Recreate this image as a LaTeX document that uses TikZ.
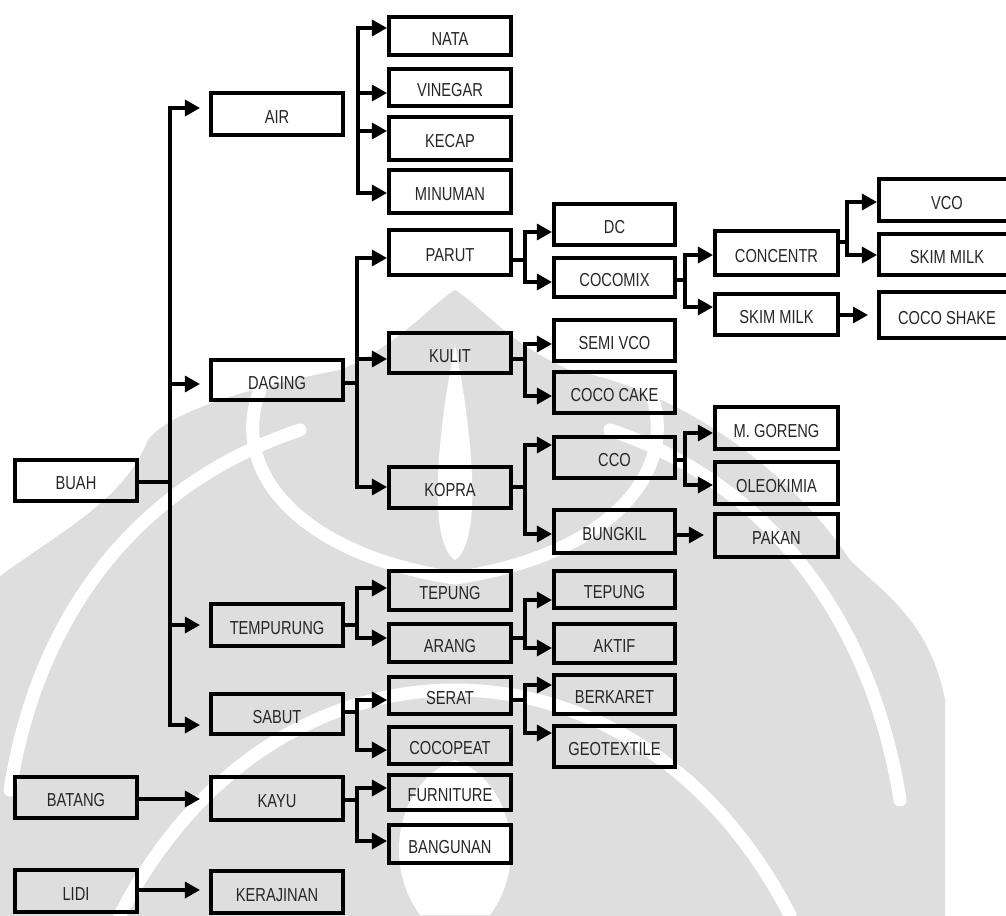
\documentclass[tikz,border=0pt]{standalone}
\usepackage{fontspec}
\setmainfont[FakeStretch=0.78]{Liberation Sans}
\usetikzlibrary{arrows.meta,fit}
\newcommand\bxnode[6]{\node[bx,fit={(#2,#3) (#4,#5)}] (#1) {};
  \node[txt] at ([yshift=-0.06cm]#1.center) {#6};}
\begin{document}
\begin{tikzpicture}[x=0.02cm,y=-0.02cm,
  bx/.style={draw=black,line width=2.3pt,inner sep=0pt},
  txt/.style={inner sep=0pt,text=black!85,font=\fontsize{10.7}{12}\selectfont},
  ln/.style={line width=1.9pt},
  ar/.style={line width=1.9pt,-{Triangle[length=0.3cm,width=0.32cm]}},
  short/.style={shorten >=0.18cm},
  wm/.style={fill=black!13,draw=none},
  wband/.style={draw=white,line width=0.26cm,line cap=round},
]
\useasboundingbox (0,0) rectangle (1006,915);
% ---- watermark (faint logo in the background) ----
\path[wm] (-30,930) -- (-30,600) .. controls (40,540) and (120,510) .. (148,440)
  .. controls (170,410) and (260,385) .. (340,370)
  .. controls (400,345) and (430,305) .. (455,290)
  .. controls (480,305) and (510,345) .. (570,370)
  .. controls (680,390) and (790,470) .. (850,560)
  .. controls (880,590) and (930,620) .. (945,700) -- (945,930) -- cycle;
\draw[wband] (10,790) .. controls (40,600) and (150,480) .. (300,430);
\draw[wband] (900,800) .. controls (870,610) and (760,480) .. (610,430);
\draw[wband] (262,385) .. controls (225,470) and (300,555) .. (455,578);
\draw[wband] (648,385) .. controls (685,470) and (610,555) .. (455,578);
\fill[white] (455,345) .. controls (440,420) and (425,540) .. (455,560)
  .. controls (485,540) and (470,420) .. (455,345) -- cycle;
\draw[wband] (120,915) .. controls (200,760) and (330,690) .. (455,690)
  .. controls (580,690) and (710,760) .. (790,915);
\fill[white] (455,760) .. controls (400,780) and (380,860) .. (420,915)
  -- (490,915) .. controls (530,860) and (510,780) .. (455,760) -- cycle;

% column A
\bxnode{BUAH}{15}{460}{137}{501}{BUAH}
\bxnode{BATANG}{15}{777}{137}{818}{BATANG}
\bxnode{LIDI}{15}{870}{137}{912}{LIDI}
% column B
\bxnode{AIR}{211}{93}{343}{135}{AIR}
\bxnode{DAGING}{211}{360}{343}{400}{DAGING}
\bxnode{TEMPURUNG}{211}{604}{343}{646}{TEMPURUNG}
\bxnode{SABUT}{211}{694}{343}{734}{SABUT}
\bxnode{KAYU}{211}{777}{343}{820}{KAYU}
\bxnode{KERAJINAN}{211}{871}{343}{913}{KERAJINAN}
% column C
\bxnode{NATA}{389}{17}{511}{55}{NATA}
\bxnode{VINEGAR}{389}{69}{511}{106}{VINEGAR}
\bxnode{KECAP}{389}{117}{511}{160}{KECAP}
\bxnode{MINUMAN}{389}{170}{511}{213}{MINUMAN}
\bxnode{PARUT}{389}{230}{511}{275}{PARUT}
\bxnode{KULIT}{389}{333}{511}{373}{KULIT}
\bxnode{KOPRA}{389}{467}{511}{508}{KOPRA}
\bxnode{TEPUNGA}{389}{571}{511}{610}{TEPUNG}
\bxnode{ARANG}{389}{624}{511}{662}{ARANG}
\bxnode{SERAT}{389}{677}{511}{714}{SERAT}
\bxnode{COCOPEAT}{389}{727}{511}{764}{COCOPEAT}
\bxnode{FURNITURE}{389}{775}{511}{810}{FURNITURE}
\bxnode{BANGUNAN}{389}{825}{511}{863}{BANGUNAN}
% column D
\bxnode{DC}{554}{204}{675}{245}{DC}
\bxnode{COCOMIX}{554}{258}{675}{297}{COCOMIX}
\bxnode{SEMIVCO}{554}{320}{675}{361}{SEMI VCO}
\bxnode{COCOCAKE}{554}{372}{675}{413}{COCO CAKE}
\bxnode{CCO}{554}{437}{675}{478}{CCO}
\bxnode{BUNGKIL}{554}{510}{675}{553}{BUNGKIL}
\bxnode{TEPUNGB}{554}{571}{675}{608}{TEPUNG}
\bxnode{AKTIF}{554}{624}{675}{663}{AKTIF}
\bxnode{BERKARET}{554}{675}{675}{714}{BERKARET}
\bxnode{GEOTEXTILE}{554}{726}{675}{767}{GEOTEXTILE}
% column E
\bxnode{CONCENTR}{715}{231}{838}{275}{CONCENTR}
\bxnode{SKIMA}{715}{294}{838}{335}{SKIM MILK}
\bxnode{MGORENG}{715}{407}{838}{449}{M. GORENG}
\bxnode{OLEOKIMIA}{715}{462}{838}{504}{OLEOKIMIA}
\bxnode{PAKAN}{715}{514}{838}{557}{PAKAN}
% column F
\bxnode{VCO}{879}{179}{1015}{221}{VCO}
\bxnode{SKIMB}{879}{234}{1015}{275}{SKIM MILK}
\bxnode{COCOSHAKE}{879}{292}{1015}{338}{COCO SHAKE}

% trunk from BUAH
\draw[ar,short] (BUAH.east |- 0,482) -| (170,108) -- (AIR.west |- 0,108);
\draw[ar,short] (BUAH.east |- 0,482) -| (170,725) -- (SABUT.west |- 0,725);
\draw[ar,short] (170,384) -- (DAGING.west |- 0,384);
\draw[ar,short] (170,625) -- (TEMPURUNG.west |- 0,625);
\draw[ar,short] (BATANG.east |- 0,799) -- (KAYU.west |- 0,799);
\draw[ar,short] (LIDI.east |- 0,890) -- (KERAJINAN.west |- 0,890);

% AIR products
\draw[ar] (358,193) |- (NATA.west |- 0,28);
\draw[ar] (358,28) |- (MINUMAN.west |- 0,193);
\draw[ar] (358,93) -- (VINEGAR.west |- 0,93);
\draw[ar] (358,131) -- (KECAP.west |- 0,131);

% DAGING
\draw[ln] (DAGING.east |- 0,383) -- (357,383);
\draw[ar] (357,487) |- (PARUT.west |- 0,258);
\draw[ar] (357,258) |- (KOPRA.west |- 0,487);
\draw[ar] (357,359) -- (KULIT.west |- 0,359);

% TEMPURUNG
\draw[ar] (TEMPURUNG.east |- 0,625) -| (357,588) -- (TEPUNGA.west |- 0,588);
\draw[ar] (TEMPURUNG.east |- 0,625) -| (357,638) -- (ARANG.west |- 0,638);
% SABUT
\draw[ar] (SABUT.east |- 0,712) -| (357,700) -- (SERAT.west |- 0,700);
\draw[ar] (SABUT.east |- 0,712) -| (357,750) -- (COCOPEAT.west |- 0,750);
% KAYU
\draw[ar] (KAYU.east |- 0,800) -| (357,788) -- (FURNITURE.west |- 0,788);
\draw[ar] (KAYU.east |- 0,800) -| (357,841) -- (BANGUNAN.west |- 0,841);

% PARUT
\draw[ar] (PARUT.east |- 0,260) -| (525,232) -- (DC.west |- 0,232);
\draw[ar] (PARUT.east |- 0,260) -| (525,282) -- (COCOMIX.west |- 0,282);
% KULIT
\draw[ar] (KULIT.east |- 0,359) -| (525,344) -- (SEMIVCO.west |- 0,344);
\draw[ar] (KULIT.east |- 0,359) -| (525,396) -- (COCOCAKE.west |- 0,396);
% KOPRA
\draw[ar] (KOPRA.east |- 0,487) -| (525,445) -- (CCO.west |- 0,445);
\draw[ar] (KOPRA.east |- 0,487) -| (525,534) -- (BUNGKIL.west |- 0,534);
% ARANG
\draw[ar] (ARANG.east |- 0,638) -| (525,600) -- (TEPUNGB.west |- 0,600);
\draw[ar] (ARANG.east |- 0,638) -| (525,648) -- (AKTIF.west |- 0,648);
% SERAT
\draw[ar] (SERAT.east |- 0,700) -| (525,685) -- (BERKARET.west |- 0,685);
\draw[ar] (SERAT.east |- 0,700) -| (525,733) -- (GEOTEXTILE.west |- 0,733);

% COCOMIX
\draw[ar] (COCOMIX.east |- 0,280) -| (685,255) -- (CONCENTR.west |- 0,255);
\draw[ar] (COCOMIX.east |- 0,280) -| (685,307) -- (SKIMA.west |- 0,307);
% CCO
\draw[ar] (CCO.east |- 0,460) -| (685,433) -- (MGORENG.west |- 0,433);
\draw[ar] (CCO.east |- 0,460) -| (685,485) -- (OLEOKIMIA.west |- 0,485);
% BUNGKIL
\draw[ar,short] (BUNGKIL.east |- 0,535) -- (PAKAN.west |- 0,535);

% CONCENTR
\draw[ar] (CONCENTR.east |- 0,242) -| (847,202) -- (VCO.west |- 0,202);
\draw[ar] (CONCENTR.east |- 0,242) -| (847,255) -- (SKIMB.west |- 0,255);
% SKIM MILK
\draw[ar,short] (SKIMA.east |- 0,315) -- (COCOSHAKE.west |- 0,315);
\end{tikzpicture}
\end{document}
